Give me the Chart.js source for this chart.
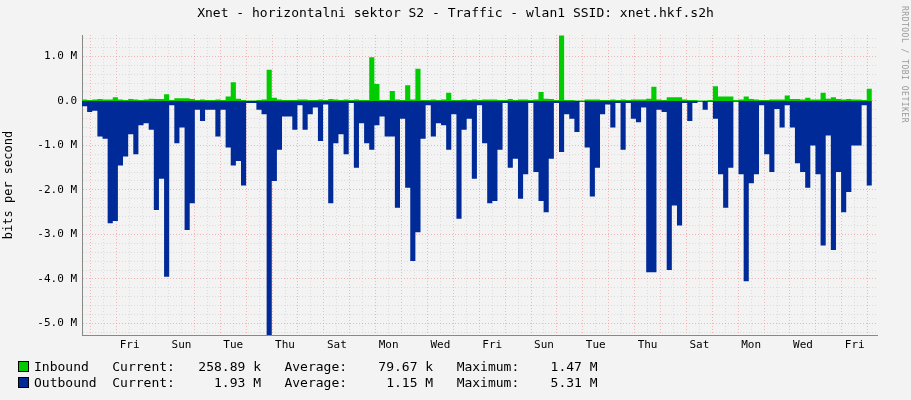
<!DOCTYPE html>
<html lang="en">
<head>
<meta charset="UTF-8">
<title>Xnet traffic</title>
<script src="https://cdn.jsdelivr.net/npm/chart.js"></script>
<style>
  body { margin: 0; background: #f3f3f3; font-family: "DejaVu Sans Mono", monospace; }
  #wrap { position: relative; width: 911px; height: 400px; }
  #title { position: absolute; top: 5px; left: 0; width: 911px; text-align: center; font-size: 13px; color: #000; }
  #side { position: absolute; right: -52px; top: 60px; transform: rotate(90deg); font-size: 8px; color: #999; letter-spacing: 0.5px; }
  .leg { position: absolute; left: 18px; font-size: 13px; white-space: pre; color: #000; }
  .sq { display: inline-block; width: 9px; height: 9px; border: 1px solid #000; margin-right: 5px; vertical-align: -1px; }
</style>
</head>
<body>
<div id="wrap">
  <canvas id="chart" width="911" height="400"></canvas>
  <div id="title">Xnet - horizontalni sektor S2 - Traffic - wlan1 SSID: xnet.hkf.s2h</div>
  <div id="side">RRDTOOL / TOBI OETIKER</div>
  <div class="leg" style="top:359px"><span class="sq" style="background:#00cc00"></span>Inbound   Current:   258.89 k   Average:    79.67 k   Maximum:    1.47 M</div>
  <div class="leg" style="top:375px"><span class="sq" style="background:#002a97"></span>Outbound  Current:     1.93 M   Average:     1.15 M   Maximum:    5.31 M</div>
</div>
<script>
// values in Mbit/s, one per sample
const outbound = [
  -2.5, -0.12, -0.25, -0.22, -0.8, -0.85, -2.75, -2.7, -1.45, -1.25, -0.75, -1.2, -0.55, -0.5, -0.65, -2.45, -1.75, -3.95, -0.1, -0.95,
  -0.6, -2.9, -2.3, -0.2, -0.45, -0.2, -0.2, -0.8, -0.2, -1.05, -1.45, -1.35, -1.9, -0.05, -0.05, -0.2, -0.3, -5.3, -1.8, -1.1,
  -0.35, -0.35, -0.65, -0.1, -0.65, -0.3, -0.15, -0.9, -0.08, -2.3, -0.95, -0.75, -1.2, -0.05, -1.5, -0.5, -0.95, -1.1, -0.55, -0.35,
  -0.8, -0.8, -2.4, -0.4, -1.95, -3.6, -2.95, -0.85, -0.1, -0.8, -0.5, -0.55, -1.1, -0.3, -2.65, -0.65, -0.4, -1.75, -0.1, -0.95,
  -2.3, -2.25, -1.1, -0.05, -1.5, -1.3, -2.2, -1.65, -0.05, -1.6, -2.25, -2.5, -1.3, -0.05, -1.15, -0.3, -0.4, -0.7, -0.02, -1.05,
  -2.15, -1.5, -0.3, -0.08, -0.6, -0.05, -1.1, -0.05, -0.4, -0.48, -0.15, -3.85, -3.85, -0.2, -0.25, -3.8, -2.35, -2.8, -0.05, -0.45,
  -0.05, -0.02, -0.2, -0.02, -0.4, -1.65, -2.4, -1.5, -0.02, -1.65, -4.05, -1.85, -1.65, -0.1, -1.2, -1.6, -0.18, -0.6, -0.1, -0.6,
  -1.4, -1.6, -1.95, -1.0, -1.65, -3.25, -0.78, -3.35, -1.6, -2.5, -2.05, -1.0, -1.0, -0.1, -1.9
];
const inbound = [
  0.1, 0.03, 0.02, 0.03, 0.04, 0.03, 0.03, 0.08, 0.03, 0.02, 0.04, 0.03, 0.02, 0.03, 0.05, 0.04, 0.04, 0.15, 0.02, 0.06,
  0.06, 0.06, 0.04, 0.02, 0.03, 0.02, 0.02, 0.03, 0.02, 0.1, 0.42, 0.05, 0.02, 0.01, 0.01, 0.02, 0.03, 0.7, 0.07, 0.03,
  0.02, 0.02, 0.02, 0.03, 0.03, 0.02, 0.02, 0.03, 0.02, 0.04, 0.03, 0.02, 0.03, 0.02, 0.03, 0.02, 0.02, 0.98, 0.38, 0.02,
  0.02, 0.22, 0.03, 0.02, 0.35, 0.03, 0.72, 0.02, 0.02, 0.03, 0.02, 0.03, 0.18, 0.02, 0.02, 0.03, 0.02, 0.03, 0.02, 0.03,
  0.03, 0.03, 0.02, 0.02, 0.04, 0.02, 0.03, 0.03, 0.02, 0.03, 0.2, 0.05, 0.04, 0.02, 1.47, 0.02, 0.02, 0.01, 0.01, 0.03,
  0.03, 0.03, 0.02, 0.02, 0.03, 0.02, 0.03, 0.02, 0.03, 0.03, 0.03, 0.05, 0.32, 0.03, 0.02, 0.08, 0.08, 0.08, 0.03, 0.02,
  0.02, 0.01, 0.01, 0.02, 0.33, 0.1, 0.1, 0.1, 0.02, 0.03, 0.1, 0.04, 0.03, 0.02, 0.02, 0.03, 0.03, 0.03, 0.12, 0.04,
  0.04, 0.03, 0.07, 0.03, 0.03, 0.18, 0.05, 0.08, 0.04, 0.03, 0.04, 0.03, 0.03, 0.02, 0.27
];
const dayNames = ['Fri', 'Sun', 'Tue', 'Thu', 'Sat', 'Mon', 'Wed', 'Fri', 'Sun', 'Tue', 'Thu', 'Sat', 'Mon', 'Wed', 'Fri'];
const yTicks = [1, 0, -1, -2, -3, -4, -5];

const spanDays = 30.7;       // width of the plot in days
const firstMidnight = 1.34;  // first day boundary, days from left edge
const step = spanDays / outbound.length;

const toPoints = arr => arr.map((v, i) => ({ x: i * step, y: v }));

const grid = (ctx, major) => {
  return major ? 'rgba(240,130,130,0.55)' : 'rgba(200,200,200,0.55)';
};

new Chart(document.getElementById('chart'), {
  type: 'line',
  data: {
    datasets: [
      { data: toPoints(outbound), stepped: 'after', borderWidth: 0, pointRadius: 0, fill: 'origin', backgroundColor: '#002a97', borderColor: '#002a97' },
      { data: toPoints(inbound), stepped: 'after', borderWidth: 0, pointRadius: 0, fill: 'origin', backgroundColor: '#00cc00', borderColor: '#00cc00' }
    ]
  },
  options: {
    responsive: false,
    animation: false,
    layout: { padding: { top: 35, right: 34, bottom: 45, left: 0 } },
    plugins: { legend: { display: false }, tooltip: { enabled: false } },
    scales: {
      x: {
        type: 'linear', min: 0, max: spanDays,
        afterFit: s => { s.height = 20; },
        afterBuildTicks: s => {
          const t = [];
          for (let d = firstMidnight - 1; d <= spanDays; d += 0.5) if (d >= 0) t.push({ value: d });
          s.ticks = t;
        },
        grid: {
          color: c => grid(c, Math.abs(((c.tick.value - firstMidnight) % 1 + 1) % 1) < 0.01),
          drawTicks: false
        },
        border: { color: '#888', width: 1, dash: [1, 2] },
        ticks: {
          autoSkip: false, maxRotation: 0, color: '#000', padding: 4,
          font: { family: 'DejaVu Sans Mono', size: 11 },
          callback: v => {
            const k = (v - firstMidnight - 0.5) / 2;
            const r = Math.round(k);
            return Math.abs(k - r) < 0.01 && r >= 0 && r < dayNames.length ? dayNames[r] : '';
          }
        }
      },
      y: {
        min: -5.26, max: 1.48,
        afterFit: s => { s.width = 82; },
        afterBuildTicks: s => {
          const t = [];
          for (let v = -5.2; v <= 1.41; v += 0.2) t.push({ value: Math.round(v * 10) / 10 });
          s.ticks = t;
        },
        grid: {
          color: c => grid(c, yTicks.includes(c.tick.value)),
          drawTicks: false
        },
        border: { color: '#888', width: 1, dash: [1, 2] },
        title: { display: true, text: 'bits per second', color: '#000', font: { family: 'DejaVu Sans Mono', size: 12 }, padding: 2 },
        ticks: {
          autoSkip: false, color: '#000', padding: 5,
          font: { family: 'DejaVu Sans Mono', size: 11 },
          callback: v => yTicks.includes(v) ? (v === 0 ? '0.0' : v.toFixed(1) + ' M') : ''
        }
      }
    }
  }
});
</script>
</body>
</html>
